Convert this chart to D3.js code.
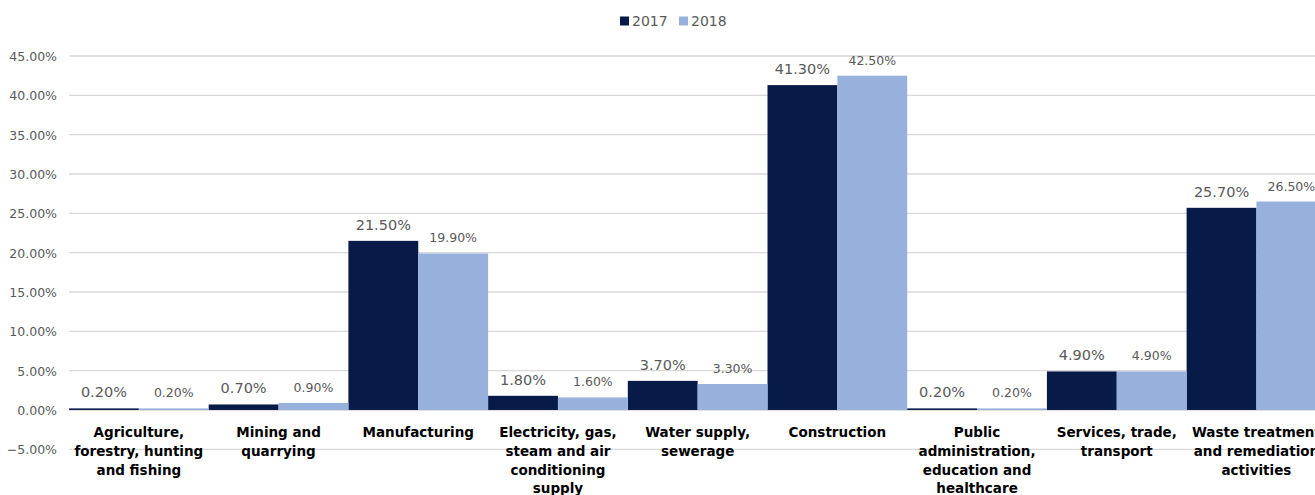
<!DOCTYPE html>
<html>
<head>
<meta charset="utf-8">
<script src="https://cdn.jsdelivr.net/npm/d3@7"></script>
<style>
  html, body { margin: 0; padding: 0; background: #fff; }
  svg { display: block; }
</style>
</head>
<body>
<svg id="chart" width="1315" height="495"></svg>
<script>
// Sector categories (line breaks mark how each axis label wraps)
const categories = [
  "Agriculture,\nforestry, hunting\nand fishing",
  "Mining and\nquarrying",
  "Manufacturing",
  "Electricity, gas,\nsteam and air\nconditioning\nsupply",
  "Water supply,\nsewerage",
  "Construction",
  "Public\nadministration,\neducation and\nhealthcare",
  "Services, trade,\ntransport",
  "Waste treatment\nand remediation\nactivities"
];
const seriesNames = ["2017", "2018"];
const values2017 = [0.2, 0.7, 21.5, 1.8, 3.7, 41.3, 0.2, 4.9, 25.7];
const values2018 = [0.2, 0.9, 19.9, 1.6, 3.3, 42.5, 0.2, 4.9, 26.5];
const yTicks = [-5, 0, 5, 10, 15, 20, 25, 30, 35, 40, 45];

const colors = { "2017": "#081a48", "2018": "#98b1dc" };
const FONT = "'DejaVu Sans', sans-serif";

const svg = d3.select("#chart");
const plotLeft = 69, bandW = 139.7;

const x = d3.scaleBand()
  .domain(d3.range(categories.length))
  .range([plotLeft, plotLeft + bandW * categories.length])
  .padding(0);
const xs = d3.scaleBand().domain(seriesNames).range([0, x.bandwidth()]).padding(0);
const y = d3.scaleLinear().domain([-5, 45]).range([449.3, 56]);

// Gridlines
svg.append("g")
  .selectAll("line")
  .data(yTicks)
  .join("line")
  .attr("x1", plotLeft).attr("x2", 1315)
  .attr("y1", d => y(d)).attr("y2", d => y(d))
  .attr("stroke", d => d === 0 ? "#bfbfbf" : "#d9d9d9")
  .attr("stroke-width", 1.3);

// Y axis tick labels
const yAxis = d3.axisLeft(y).tickValues(yTicks).tickSize(0).tickPadding(0)
  .tickFormat(d => d3.format(".2f")(d) + "%");
const yg = svg.append("g").attr("transform", "translate(57,0)").call(yAxis);
yg.select(".domain").remove();
yg.selectAll("text")
  .attr("font-family", FONT).attr("font-size", 12.5).attr("fill", "#595959")
  .attr("dy", "0.35em");

// Bars
const series = [
  { name: "2017", values: values2017, fs: 14.5 },
  { name: "2018", values: values2018, fs: 12.5 }
];
series.forEach(s => {
  const g = svg.append("g");
  g.selectAll("rect")
    .data(s.values)
    .join("rect")
    .attr("x", (d, i) => x(i) + xs(s.name))
    .attr("width", xs.bandwidth())
    .attr("y", d => y(Math.max(0, d)))
    .attr("height", d => Math.abs(y(d) - y(0)))
    .attr("fill", colors[s.name]);
  g.selectAll("text")
    .data(s.values)
    .join("text")
    .attr("x", (d, i) => x(i) + xs(s.name) + xs.bandwidth() / 2)
    .attr("y", d => y(d) - 11)
    .attr("text-anchor", "middle")
    .attr("font-family", FONT).attr("font-size", s.fs).attr("fill", "#595959")
    .text(d => d3.format(".2f")(d) + "%");
});

// Category labels
const cl = svg.append("g");
categories.forEach((c, i) => {
  const t = cl.append("text")
    .attr("x", x(i) + x.bandwidth() / 2)
    .attr("y", 437)
    .attr("text-anchor", "middle")
    .attr("font-family", FONT).attr("font-weight", "bold")
    .attr("font-size", 13.5).attr("fill", "#000");
  c.split("\n").forEach((line, k) => {
    t.append("tspan").attr("x", x(i) + x.bandwidth() / 2)
      .attr("dy", k === 0 ? 0 : 18.8).text(line);
  });
});

// Legend
const legend = svg.append("g");
const legendX = [620, 679];
seriesNames.forEach((n, i) => {
  legend.append("rect").attr("x", legendX[i]).attr("y", 16.5)
    .attr("width", 9).attr("height", 9).attr("fill", colors[n]);
  legend.append("text").attr("x", legendX[i] + 12).attr("y", 26)
    .attr("font-family", FONT).attr("font-size", 14).attr("fill", "#595959")
    .text(n);
});
</script>
</body>
</html>
